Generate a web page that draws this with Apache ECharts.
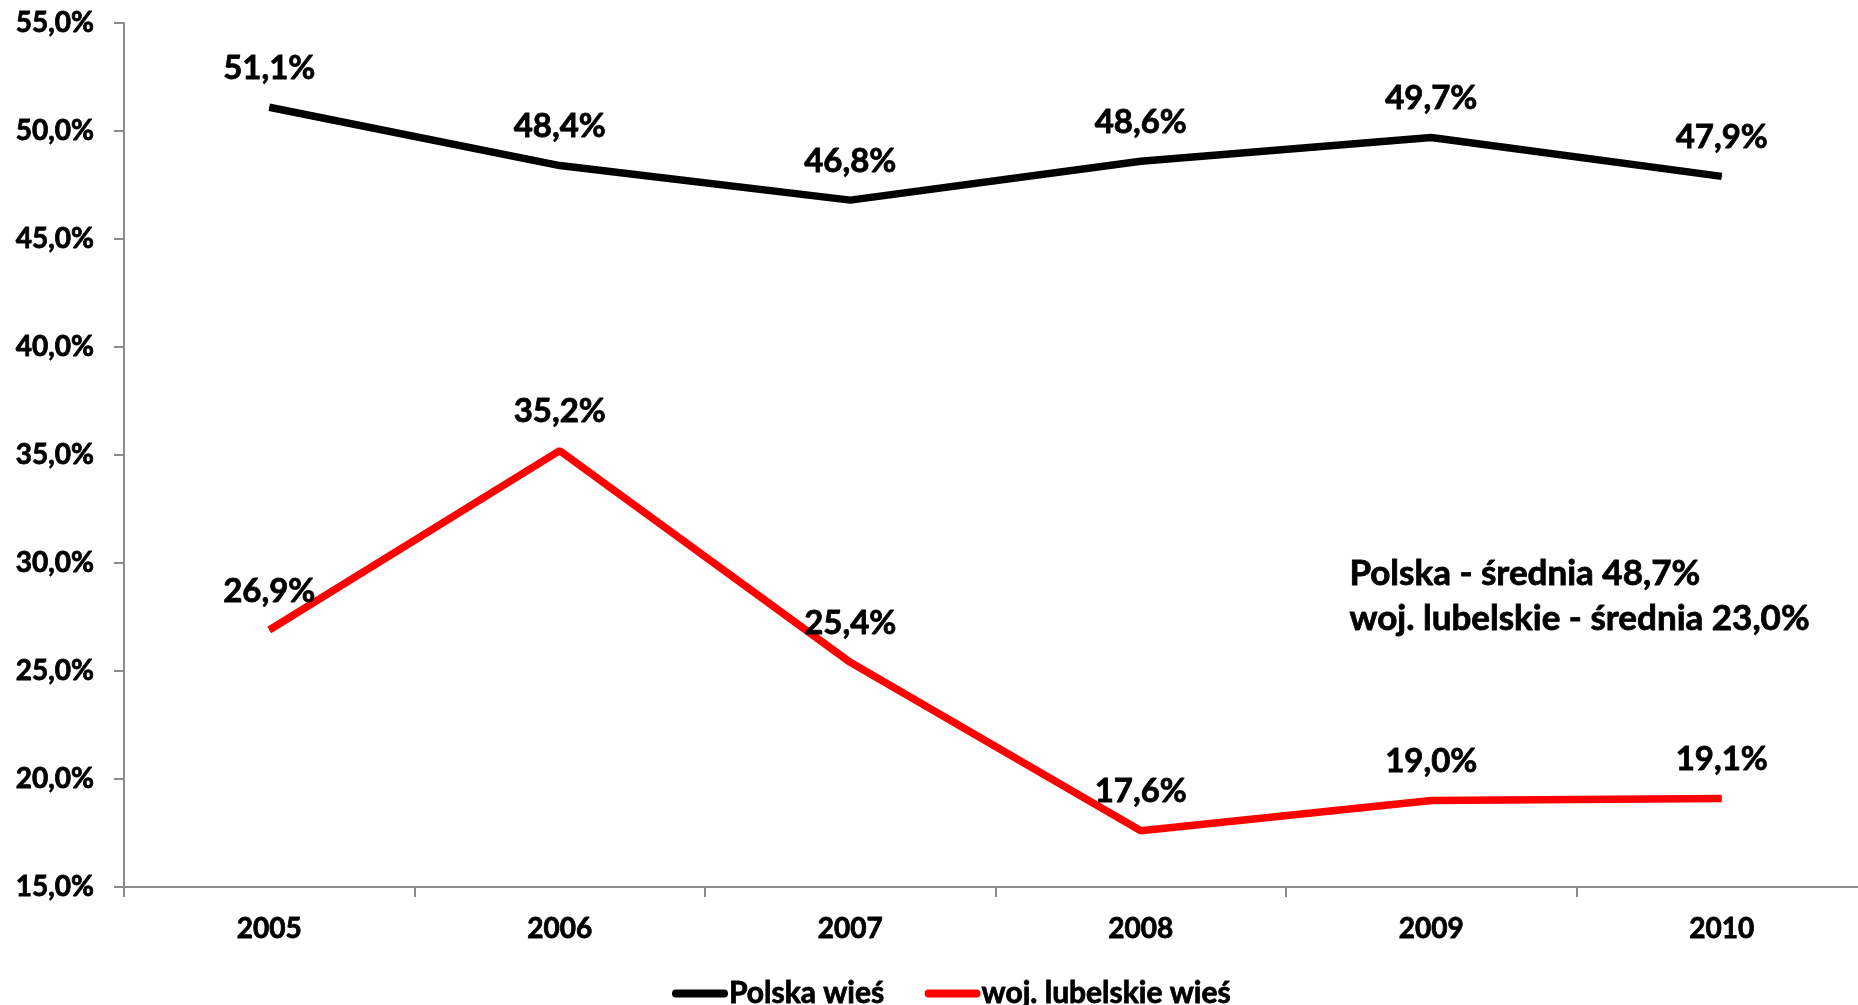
<!DOCTYPE html>
<html>
<head>
<meta charset="utf-8">
<script src="https://cdn.jsdelivr.net/npm/echarts@6/dist/echarts.min.js"></script>
<style>
  html, body { margin: 0; padding: 0; background: #fff; }
  #chart { width: 1858px; height: 1005px; }
</style>
</head>
<body>
<div id="chart"></div>
<script>
const years = ['2005', '2006', '2007', '2008', '2009', '2010']
const polska = [51.1, 48.4, 46.8, 48.6, 49.7, 47.9]
const lubelskie = [26.9, 35.2, 25.4, 17.6, 19.0, 19.1]
const seriesNames = ['Polska wieś', 'woj. lubelskie wieś']
const noteLines = ['Polska - średnia 48,7%', 'woj. lubelskie - średnia 23,0%']

const FONT = 'Lato, "Open Sans", sans-serif'
const pct = (v) => v.toFixed(1).replace('.', ',') + '%'

// slightly thicker strokes so Lato bold looks closer to the heavy original
const heavy = { textBorderColor: '#000', textBorderWidth: 0.8 }

const myChart = echarts.init(document.getElementById('chart'))

const makeSeries = (name, data, color) => ({
  name: name,
  type: 'line',
  data: data,
  symbol: 'circle',
  symbolSize: 1,
  showSymbol: true,
  lineStyle: { color: color, width: 7.5 },
  itemStyle: { color: color },
  label: {
    show: true,
    position: 'top',
    distance: 22,
    formatter: (p) => pct(p.value),
    color: '#000',
    fontFamily: FONT,
    fontWeight: 'bold',
    fontSize: 33,
    ...heavy,
  },
  labelLayout: { hideOverlap: false },
  emphasis: { disabled: true },
})

const pill = 'path://M4,0 L52,0 A4,4 0 0 1 52,8 L4,8 A4,4 0 0 1 4,0 Z'

const option = {
  animation: false,
  // the plot runs a few px past the right edge in the original
  grid: { left: 124, width: 1743, top: 23, bottom: 118, outerBoundsMode: 'none' },
  legend: {
    left: 667,
    top: 973,
    itemWidth: 56,
    itemHeight: 8,
    itemGap: 40,
    data: seriesNames.map((n) => ({ name: n, icon: pill })),
    textStyle: {
      fontFamily: FONT,
      fontWeight: 'bold',
      fontSize: 30,
      color: '#000',
      padding: [0, 0, 0, -4],
      ...heavy,
    },
  },
  xAxis: {
    type: 'category',
    data: years,
    boundaryGap: true,
    axisLine: { lineStyle: { color: '#8c8c8c', width: 2 } },
    axisTick: { show: true, length: 10, lineStyle: { color: '#8c8c8c', width: 2 } },
    axisLabel: {
      margin: 28,
      color: '#000',
      fontFamily: FONT,
      fontWeight: 'bold',
      fontSize: 28,
      ...heavy,
    },
  },
  yAxis: {
    type: 'value',
    min: 15,
    max: 55,
    interval: 5,
    splitLine: { show: false },
    axisLine: { show: true, lineStyle: { color: '#8c8c8c', width: 2 } },
    axisTick: { show: true, length: 10, lineStyle: { color: '#8c8c8c', width: 2 } },
    axisLabel: {
      margin: 30,
      formatter: (v) => pct(v),
      color: '#000',
      fontFamily: FONT,
      fontWeight: 'bold',
      fontSize: 28,
      ...heavy,
    },
  },
  graphic: [
    {
      type: 'text',
      left: 1349,
      top: 551,
      style: {
        text: noteLines.join('\n'),
        fill: '#000',
        stroke: '#000',
        lineWidth: 0.8,
        font: 'bold 35px ' + FONT,
        lineHeight: 45,
      },
    },
  ],
  series: [
    makeSeries(seriesNames[0], polska, '#000000'),
    makeSeries(seriesNames[1], lubelskie, '#ff0000'),
  ],
}

myChart.setOption(option)
</script>
</body>
</html>
